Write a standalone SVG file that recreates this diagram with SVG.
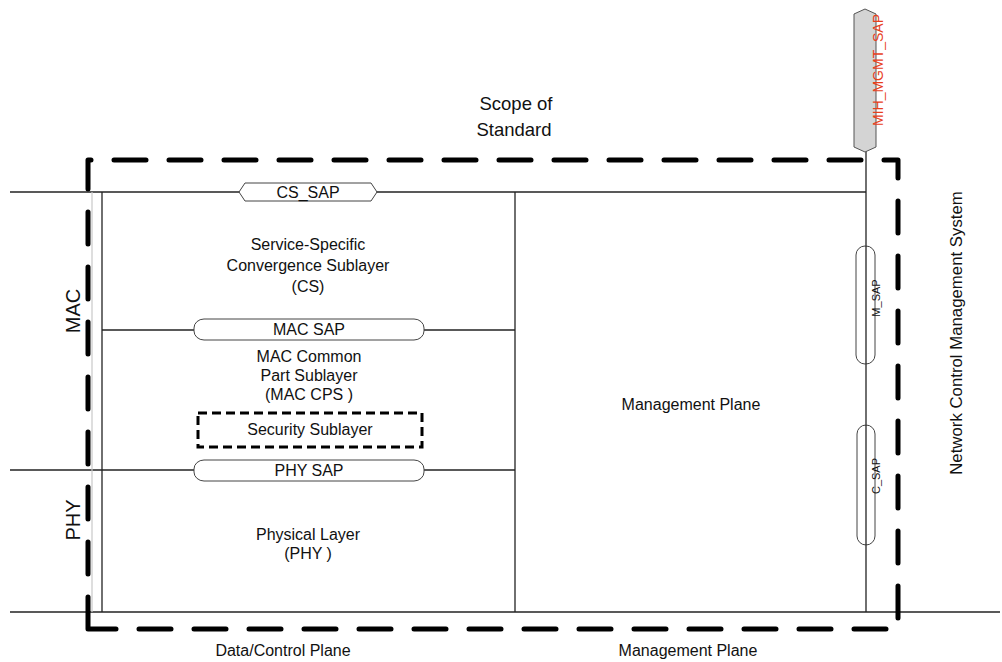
<svg xmlns="http://www.w3.org/2000/svg" width="1002" height="662" viewBox="0 0 1002 662">
<style>
text{font-family:"Liberation Sans",Arial,sans-serif;fill:#111;}
.t16{font-size:16px;text-anchor:middle;}
.t14{font-size:14.5px;text-anchor:middle;}
.ln{stroke:#222;stroke-width:1.3;fill:none;}
.sap{fill:#fff;stroke:#444;stroke-width:1;}
.scope{fill:none;stroke:#000;stroke-width:5;stroke-dasharray:32 23;stroke-linecap:round;stroke-linejoin:round;}
</style>
<rect width="1002" height="662" fill="#fff"/>
<g id="connectors">
<line class="ln" x1="10" y1="192" x2="866" y2="192"/>
<line class="ln" x1="102" y1="330" x2="515" y2="330"/>
<line class="ln" x1="10" y1="470" x2="515" y2="470"/>
<line class="ln" x1="10" y1="612" x2="1000" y2="612"/>
<line x1="92" y1="192" x2="92" y2="612" stroke="#c8c8c8" stroke-width="1.2"/>
<line class="ln" x1="102" y1="192" x2="102" y2="612"/>
<line class="ln" x1="515" y1="192" x2="515" y2="612"/>
<line class="ln" x1="866" y1="150" x2="866" y2="612"/>
</g>
<g id="scope">
<path class="scope" d="M88,629 V160 H898 V629 Z"/>
<text x="516" y="110" style="font-size:18.5px;text-anchor:middle">Scope of</text>
<text x="514" y="136" style="font-size:18.5px;text-anchor:middle">Standard</text>
</g>
<g id="mih-mgmt-sap">
<polygon points="854,14 865,9 876,14 876,147 865,152 854,147" fill="#d4d4d4" stroke="#555" stroke-width="1"/>
<text transform="translate(883,70) rotate(-90)" style="font-size:14px;text-anchor:middle;fill:#e8401c">MIH_MGMT_SAP</text>
</g>
<g id="cs-sap">
<polygon class="sap" points="245,183 371,183 377,192 371,201 245,201 239,192"/>
<text class="t16" x="308" y="198">CS_SAP</text>
</g>
<g id="cs">
<text class="t16" x="308" y="250">Service-Specific</text>
<text class="t16" x="308" y="271">Convergence Sublayer</text>
<text class="t16" x="308" y="292">(CS)</text>
</g>
<g id="mac-sap">
<rect class="sap" x="194" y="319" width="230" height="21" rx="10" ry="9"/>
<text class="t16" x="309" y="335">MAC SAP</text>
</g>
<g id="mac-cps">
<text class="t16" x="309" y="362">MAC Common</text>
<text class="t16" x="309" y="381">Part Sublayer</text>
<text class="t16" x="309" y="400">(MAC CPS )</text>
</g>
<g id="security">
<rect x="198" y="413" width="224" height="34" fill="none" stroke="#000" stroke-width="3" stroke-dasharray="9 5"/>
<text class="t16" x="310" y="435">Security Sublayer</text>
</g>
<g id="phy-sap">
<rect class="sap" x="194" y="460" width="230" height="21" rx="10" ry="9"/>
<text class="t16" x="309" y="476">PHY SAP</text>
</g>
<g id="phy">
<text class="t16" x="308" y="540">Physical Layer</text>
<text class="t16" x="308" y="559">(PHY )</text>
</g>
<g id="management">
<text class="t16" x="691" y="410">Management Plane</text>
</g>
<g id="m-sap">
<rect class="sap" x="856" y="246" width="19" height="118" rx="9" ry="9"/>
<line class="ln" x1="866" y1="246" x2="866" y2="364" stroke-width="1"/>
<text transform="translate(880,298) rotate(-90)" style="font-size:11px;text-anchor:middle">M_SAP</text>
</g>
<g id="c-sap">
<rect class="sap" x="857" y="425" width="18" height="120" rx="9" ry="9"/>
<line class="ln" x1="866" y1="425" x2="866" y2="545" stroke-width="1"/>
<text transform="translate(880,476) rotate(-90)" style="font-size:11px;text-anchor:middle">C_SAP</text>
</g>
<g id="labels">
<text transform="translate(80,311) rotate(-90)" style="font-size:20px;text-anchor:middle">MAC</text>
<text transform="translate(80,520) rotate(-90)" style="font-size:20px;text-anchor:middle">PHY</text>
<text transform="translate(962,333) rotate(-90)" style="font-size:16.8px;text-anchor:middle">Network Control Management System</text>
<text class="t16" x="283" y="656">Data/Control Plane</text>
<text class="t16" x="688" y="656">Management Plane</text>
</g>
</svg>
